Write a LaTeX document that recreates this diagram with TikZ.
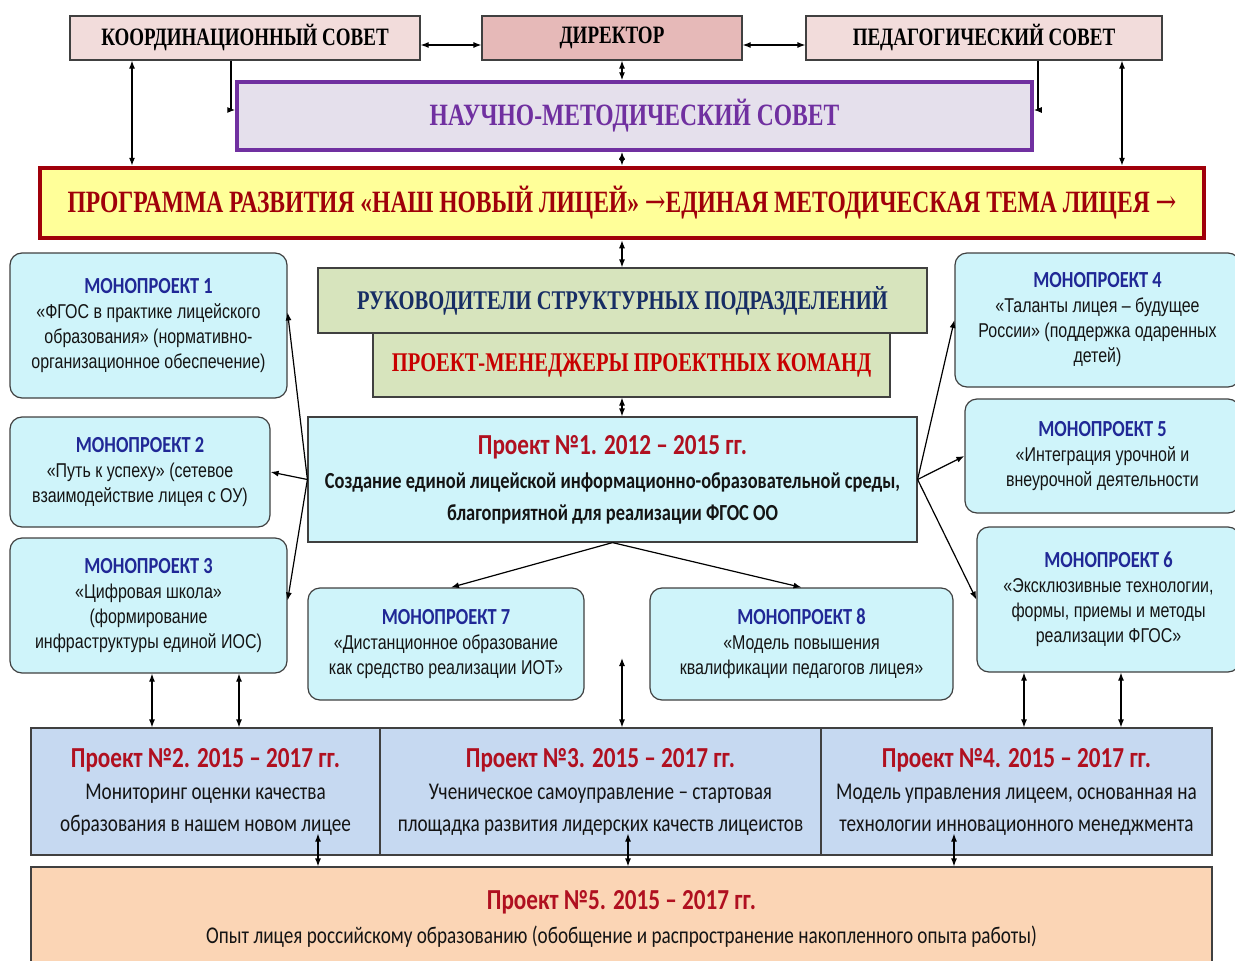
\documentclass[tikz,border=0pt]{standalone}
\usepackage{fontspec}
\usetikzlibrary{arrows.meta}

\newfontfamily\fntserif[FakeStretch=0.76]{Liberation Serif}
\newfontfamily\fntcal[FakeStretch=0.8]{Carlito}
\newfontfamily\fntnar[FakeStretch=0.8]{Liberation Sans}
\newfontfamily\fntarrow[FakeStretch=0.8]{DejaVu Serif}

\definecolor{boxline}{RGB}{64,64,64}
\definecolor{pinklight}{RGB}{242,220,219}
\definecolor{pinkdark}{RGB}{230,185,184}
\definecolor{lavender}{RGB}{229,224,236}
\definecolor{purpleline}{RGB}{112,48,160}
\definecolor{yellowlight}{RGB}{255,255,153}
\definecolor{progred}{RGB}{160,0,10}
\definecolor{greenlight}{RGB}{215,228,189}
\definecolor{navytext}{RGB}{23,45,100}
\definecolor{redtext}{RGB}{200,0,0}
\definecolor{cyanlight}{RGB}{207,244,250}
\definecolor{monoblue}{RGB}{32,40,150}
\definecolor{projred}{RGB}{176,16,32}
\definecolor{bluelight}{RGB}{198,217,241}
\definecolor{peach}{RGB}{251,213,181}
\definecolor{bodytext}{RGB}{20,20,20}

\tikzset{
    box/.style={draw=boxline, line width=1.2pt, inner sep=0pt, align=center},
    council/.style={box, fill=pinklight, font=\fntserif\bfseries\fontsize{25}{28}\selectfont},
    mono/.style={box, rounded corners=12pt, fill=cyanlight, text=bodytext,
        font=\fntnar\fontsize{20}{25}\selectfont},
    stage/.style={box, fill=bluelight, text=bodytext, font=\fntcal\fontsize{24}{32}\selectfont},
    link2/.style={{Latex[length=8pt,width=6pt]}-{Latex[length=8pt,width=6pt]}, line width=1.2pt},
    link1/.style={-{Latex[length=8pt,width=6pt]}, line width=1.2pt}
}

\newcommand{\monohead}[1]{{\fntcal\bfseries\fontsize{23}{25}\selectfont\color{monoblue}#1}}
\newcommand{\stagehead}[1]{{\fntcal\bfseries\fontsize{29}{34}\selectfont\color{projred}#1}}
\newcommand{\progarrow}{{\fntarrow\mdseries →}}

\begin{document}
\begin{tikzpicture}[x=1pt, y=-1pt]

    % Page frame, same proportions as the scheme
    \useasboundingbox (0,0) rectangle (1235,961);

    % Top row: councils and director
    \node[council, minimum width=350pt, minimum height=44pt] (koord) at (245,38) {КООРДИНАЦИОННЫЙ СОВЕТ};
    \node[council, fill=pinkdark, minimum width=260pt, minimum height=44pt] (dir) at (612,38) {ДИРЕКТОР};
    \node[council, minimum width=356pt, minimum height=44pt] (ped) at (984,38) {ПЕДАГОГИЧЕСКИЙ СОВЕТ};

    % Scientific-methodical council
    \node[box, draw=purpleline, line width=3.5pt, fill=lavender, text=purpleline,
        font=\fntserif\bfseries\fontsize{31}{36}\selectfont,
        minimum width=795pt, minimum height=68pt] (nms) at (634.5,116) {НАУЧНО-МЕТОДИЧЕСКИЙ СОВЕТ};

    % Development programme
    \node[box, draw=progred, line width=4.5pt, fill=yellowlight, text=progred,
        font=\fntserif\bfseries\fontsize{31}{36}\selectfont,
        minimum width=1164pt, minimum height=70pt] (prog) at (622,203)
        {ПРОГРАММА РАЗВИТИЯ «НАШ НОВЫЙ ЛИЦЕЙ» \progarrow ЕДИНАЯ МЕТОДИЧЕСКАЯ ТЕМА ЛИЦЕЯ \progarrow};

    % Heads and project managers
    \node[box, fill=greenlight, text=navytext, font=\fntserif\bfseries\fontsize{27}{30}\selectfont,
        minimum width=609pt, minimum height=65pt] (ruk) at (622.5,300.5) {РУКОВОДИТЕЛИ СТРУКТУРНЫХ ПОДРАЗДЕЛЕНИЙ};
    \node[box, fill=greenlight, text=redtext, font=\fntserif\bfseries\fontsize{27}{30}\selectfont,
        minimum width=517pt, minimum height=64pt] (men) at (631.5,365) {ПРОЕКТ-МЕНЕДЖЕРЫ ПРОЕКТНЫХ КОМАНД};

    % Project 1
    \node[box, fill=cyanlight, text=bodytext, font=\fntcal\bfseries\fontsize{23}{32}\selectfont,
        minimum width=609pt, minimum height=125pt] (proj1) at (612.5,479.5)
        {\stagehead{Проект №1. 2012 – 2015 гг.}\\[2pt]
         Создание единой лицейской информационно-образовательной среды,\\
         благоприятной для реализации ФГОС ОО};

    % Monoprojects, left column
    \node[mono, minimum width=277pt, minimum height=145pt] (mp1) at (148.5,325.5)
        {\monohead{МОНОПРОЕКТ 1}\\«ФГОС в практике лицейского\\образования» (нормативно-\\организационное обеспечение)};
    \node[mono, minimum width=260pt, minimum height=110pt] (mp2) at (140,472)
        {\monohead{МОНОПРОЕКТ 2}\\«Путь к успеху» (сетевое\\взаимодействие лицея с ОУ)};
    \node[mono, minimum width=277pt, minimum height=135pt] (mp3) at (148.5,605.5)
        {\monohead{МОНОПРОЕКТ 3}\\«Цифровая школа»\\(формирование\\инфраструктуры единой ИОС)};

    % Monoprojects, right column
    \node[mono, minimum width=285pt, minimum height=134pt] (mp4) at (1097.5,320)
        {\monohead{МОНОПРОЕКТ 4}\\«Таланты лицея – будущее\\России» (поддержка одаренных\\детей)};
    \node[mono, minimum width=275pt, minimum height=114pt] (mp5) at (1102.5,456)
        {\monohead{МОНОПРОЕКТ 5}\\«Интеграция урочной и\\внеурочной деятельности};
    \node[mono, minimum width=263pt, minimum height=145pt] (mp6) at (1108.5,599.5)
        {\monohead{МОНОПРОЕКТ 6}\\«Эксклюзивные технологии,\\формы, приемы и методы\\реализации ФГОС»};

    % Monoprojects under project 1
    \node[mono, minimum width=276pt, minimum height=112pt] (mp7) at (446,644)
        {\monohead{МОНОПРОЕКТ 7}\\«Дистанционное образование\\как средство реализации ИОТ»};
    \node[mono, minimum width=303pt, minimum height=112pt] (mp8) at (801.5,644)
        {\monohead{МОНОПРОЕКТ 8}\\«Модель повышения\\квалификации педагогов лицея»};

    % Projects 2015 - 2017
    \node[stage, minimum width=349pt, minimum height=127pt] (proj2) at (205.5,791.5)
        {\stagehead{Проект №2. 2015 – 2017 гг.}\\Мониторинг оценки качества\\образования в нашем новом лицее};
    \node[stage, minimum width=441pt, minimum height=127pt] (proj3) at (600.5,791.5)
        {\stagehead{Проект №3. 2015 – 2017 гг.}\\Ученическое самоуправление – стартовая\\площадка развития лидерских качеств лицеистов};
    \node[stage, minimum width=391pt, minimum height=127pt] (proj4) at (1016.5,791.5)
        {\stagehead{Проект №4. 2015 – 2017 гг.}\\Модель управления лицеем, основанная на\\технологии инновационного менеджмента};
    \node[stage, fill=peach, minimum width=1181pt, minimum height=103pt] (proj5) at (621.5,918.5)
        {\stagehead{Проект №5. 2015 – 2017 гг.}\\[2pt]Опыт лицея российскому образованию (обобщение и распространение накопленного опыта работы)};

    % Links in the top part
    \draw[link2] ([yshift=-7pt]koord.east) -- ([yshift=-7pt]dir.west);
    \draw[link2] ([yshift=-7pt]dir.east) -- ([yshift=-7pt]ped.west);
    \draw[link2] (dir.south -| prog.north) -- (nms.north -| prog.north);
    \draw[link2] (nms.south -| prog.north) -- (prog.north);
    \coordinate (kL) at ([xshift=-113pt]koord.south);
    \coordinate (kR) at ([xshift=-14pt]koord.south);
    \coordinate (pL) at ([xshift=54pt]ped.south);
    \coordinate (pR) at ([xshift=138pt]ped.south);
    \draw[link2] (kL) -- (kL |- prog.north);
    \draw[link2] (pR) -- (pR |- prog.north);
    \draw[link1] (kR) |- ([yshift=6pt]nms.west);
    \draw[link1] (pL) |- ([yshift=6pt]nms.east);

    % Links around project 1
    \draw[link2] (prog.south) -- (ruk.north -| prog.south);
    \draw[link2] (men.south -| prog.south) -- (proj1.north -| prog.south);
    \draw[link1] (proj1.west) -- ([yshift=13pt]mp1.east);
    \draw[link1] (proj1.west) -- (mp2.east);
    \draw[link1] (proj1.west) -- ([yshift=5pt]mp3.east);
    \draw[link1] (proj1.east) -- (mp4.west);
    \draw[link1] (proj1.east) -- (mp5.west);
    \draw[link1] (proj1.east) -- (mp6.west);
    \draw[link1] (proj1.south) -- ([xshift=5pt]mp7.north);
    \draw[link1] (proj1.south) -- (mp8.north);

    % Links to the bottom projects
    \draw[link2] ([xshift=3.5pt]mp3.south) -- ([xshift=3.5pt]mp3.south |- proj2.north);
    \draw[link2] ([xshift=90.5pt]mp3.south) -- ([xshift=90.5pt]mp3.south |- proj2.north);
    \coordinate (freeTop) at (prog.south |- 0,658);
    \draw[link2] (freeTop) -- (freeTop |- proj3.north);
    \draw[link2] ([xshift=-84.5pt]mp6.south) -- ([xshift=-84.5pt]mp6.south |- proj4.north);
    \draw[link2] ([xshift=12.5pt]mp6.south) -- ([xshift=12.5pt]mp6.south |- proj4.north);
    \draw[link2] ([xshift=112.5pt,yshift=22pt]proj2.south) -- ([xshift=112.5pt]proj2.south |- proj5.north);
    \draw[link2] ([xshift=27.5pt,yshift=22pt]proj3.south) -- ([xshift=27.5pt]proj3.south |- proj5.north);
    \draw[link2] ([xshift=-62.5pt,yshift=22pt]proj4.south) -- ([xshift=-62.5pt]proj4.south |- proj5.north);

\end{tikzpicture}
\end{document}
